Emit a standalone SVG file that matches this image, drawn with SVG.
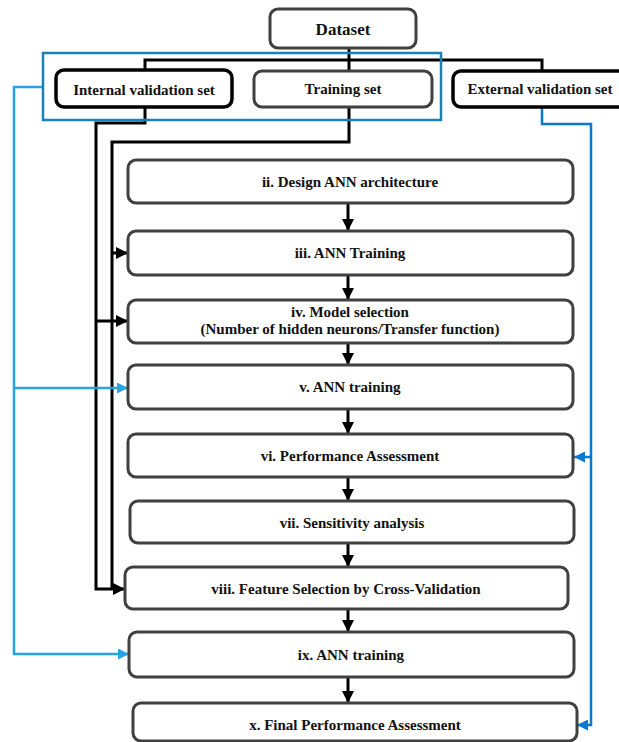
<svg xmlns="http://www.w3.org/2000/svg" width="619" height="742" viewBox="0 0 619 742">
<style>
  text { font-family: "Liberation Serif", "Times New Roman", serif; font-weight: bold; font-size: 15px; fill: #111; text-anchor: middle; }
  .box { fill: #fff; stroke: #404040; stroke-width: 3; }
  .kbox { fill: #fff; stroke: #000; stroke-width: 3.5; }
  .ln { fill: none; stroke: #000; stroke-width: 3; }
  .bl1 { fill: none; stroke: #27a3e3; stroke-width: 2.5; }
  .bl2 { fill: none; stroke: #0b78d0; stroke-width: 2.5; }
</style>
<defs>
  <marker id="ak" viewBox="0 0 10 10" refX="10" refY="5" markerWidth="4" markerHeight="4" markerUnits="strokeWidth" orient="auto">
    <path d="M0,0 L10,5 L0,10 Z" fill="#000"/>
  </marker>
  <marker id="ab1" viewBox="0 0 10 10" refX="10" refY="5" markerWidth="4.4" markerHeight="4.4" markerUnits="strokeWidth" orient="auto">
    <path d="M0,0 L10,5 L0,10 Z" fill="#27a3e3"/>
  </marker>
  <marker id="ab2" viewBox="0 0 10 10" refX="10" refY="5" markerWidth="4.4" markerHeight="4.4" markerUnits="strokeWidth" orient="auto">
    <path d="M0,0 L10,5 L0,10 Z" fill="#0b78d0"/>
  </marker>
</defs>

<g id="connectors">
  <!-- dataset split -->
  <path class="ln" d="M349,48 V71"/>
  <path class="ln" d="M145,70 V60 H542 V71"/>
  <!-- internal validation -->
  <path class="ln" d="M145,107 V123 H96 V589 H125" marker-end="url(#ak)"/>
  <path class="ln" d="M96,321 H128" marker-end="url(#ak)"/>
  <!-- training set -->
  <path class="ln" d="M349,107 V142 H112 V589"/>
  <path class="ln" d="M112,253 H128" marker-end="url(#ak)"/>
  <!-- vertical flow -->
  <path class="ln" d="M348,203 V231" marker-end="url(#ak)"/>
  <path class="ln" d="M348,275 V300" marker-end="url(#ak)"/>
  <path class="ln" d="M348,343 V365" marker-end="url(#ak)"/>
  <path class="ln" d="M348,409 V434" marker-end="url(#ak)"/>
  <path class="ln" d="M348,477 V501" marker-end="url(#ak)"/>
  <path class="ln" d="M348,543 V567" marker-end="url(#ak)"/>
  <path class="ln" d="M348,609 V632" marker-end="url(#ak)"/>
  <path class="ln" d="M348,677 V703" marker-end="url(#ak)"/>
  <!-- blue left -->
  <path class="bl1" d="M43,87 H14 V654 H129" marker-end="url(#ab1)"/>
  <path class="bl1" d="M14,388 H128" marker-end="url(#ab1)"/>
  <!-- blue right -->
  <path class="bl2" d="M542,107 V124 H591 V725 H577" marker-end="url(#ab2)"/>
  <path class="bl2" d="M591,457 H574" marker-end="url(#ab2)"/>
</g>

<g id="dataset">
  <rect class="box" x="270" y="9" width="146" height="39" rx="8"/>
  <text x="343" y="35" style="font-size:17px">Dataset</text>
</g>

<rect id="group-frame" x="43" y="53" width="398" height="67" fill="none" stroke="#1a80b8" stroke-width="2.5"/>

<g id="internal">
  <rect class="kbox" x="56" y="70" width="176" height="37" rx="8"/>
  <text x="144" y="95">Internal validation set</text>
</g>
<g id="training">
  <rect class="box" x="254" y="71" width="178" height="36" rx="8"/>
  <text x="343" y="94">Training set</text>
</g>
<g id="external">
  <rect class="kbox" x="453" y="71" width="180" height="36" rx="8"/>
  <text x="540" y="94">External validation set</text>
</g>

<g id="step-ii">
  <rect class="box" x="128" y="160" width="445" height="43" rx="8"/>
  <text x="350" y="187">ii. Design ANN architecture</text>
</g>
<g id="step-iii">
  <rect class="box" x="128" y="231" width="445" height="44" rx="8"/>
  <text x="350" y="258">iii. ANN Training</text>
</g>
<g id="step-iv">
  <rect class="box" x="128" y="300" width="445" height="43" rx="8"/>
  <text x="350" y="317">iv. Model selection</text>
  <text x="350" y="334">(Number of hidden neurons/Transfer function)</text>
</g>
<g id="step-v">
  <rect class="box" x="128" y="365" width="445" height="44" rx="8"/>
  <text x="350" y="392">v. ANN training</text>
</g>
<g id="step-vi">
  <rect class="box" x="128" y="434" width="445" height="43" rx="8"/>
  <text x="350" y="461">vi. Performance Assessment</text>
</g>
<g id="step-vii">
  <rect class="box" x="130" y="501" width="444" height="42" rx="8"/>
  <text x="352" y="528">vii. Sensitivity analysis</text>
</g>
<g id="step-viii">
  <rect class="box" x="125" y="567" width="443" height="42" rx="8"/>
  <text x="346" y="594">viii. Feature Selection by Cross-Validation</text>
</g>
<g id="step-ix">
  <rect class="box" x="129" y="632" width="445" height="45" rx="8"/>
  <text x="351" y="660">ix. ANN training</text>
</g>
<g id="step-x">
  <rect class="box" x="133" y="703" width="444" height="38" rx="8"/>
  <text x="355" y="730">x. Final Performance Assessment</text>
</g>
</svg>
